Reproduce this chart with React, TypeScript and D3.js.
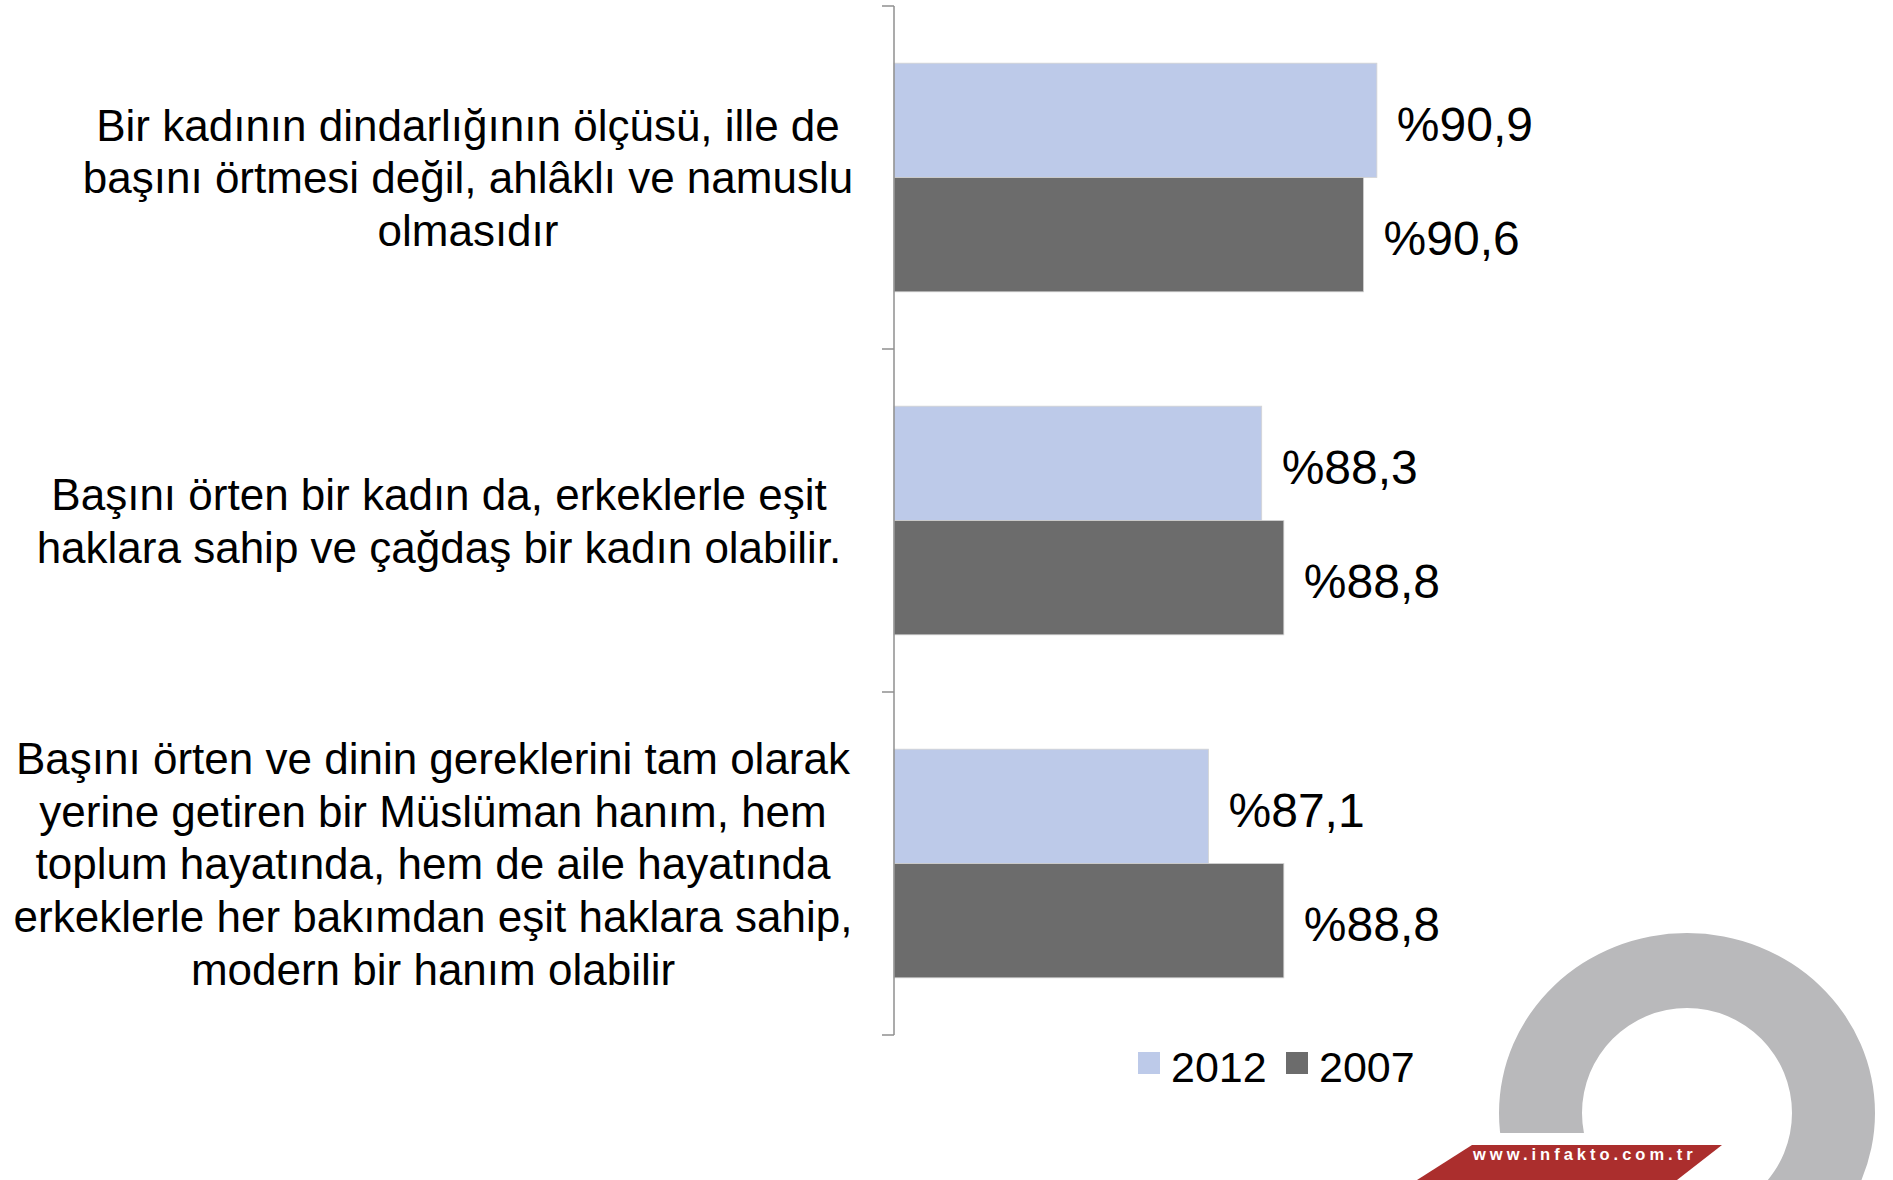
import * as d3 from 'd3';
import { useEffect, useRef } from 'react';

// category labels, already wrapped as in the original slide
const categories = [
  ['Bir kadının dindarlığının ölçüsü, ille de', 'başını örtmesi değil, ahlâklı ve namuslu', 'olmasıdır'],
  ['Başını örten bir kadın da, erkeklerle eşit', 'haklara sahip ve çağdaş bir kadın olabilir.'],
  [
    'Başını örten ve dinin gereklerini tam olarak',
    'yerine getiren bir Müslüman hanım, hem',
    'toplum hayatında, hem de aile hayatında',
    'erkeklerle her bakımdan eşit haklara sahip,',
    'modern bir hanım olabilir',
  ],
];
const series = ['2012', '2007'];
const values2012 = [90.9, 88.3, 87.1];
const values2007 = [90.6, 88.8, 88.8];
const colors = ['#BDCAE9', '#6C6C6C'];

const W = 1893;
const H = 1180;
const FONT = '"Liberation Sans", Arial, sans-serif';

export default function App() {
  const svgRef = useRef<SVGSVGElement | null>(null);

  useEffect(() => {
    const svg = d3.select(svgRef.current).attr('width', W).attr('height', H);
    svg.selectAll('*').remove();

    const x = d3.scaleLinear().domain([80, 100]).range([894, 1780]);
    const y = d3.scaleBand<number>().domain(d3.range(categories.length)).range([6, 1035]);
    const ySub = d3.scaleBand<string>().domain(series).range([0, y.bandwidth()]).paddingOuter(0.5);

    // label centres per category (Excel wraps each label box differently)
    const labelCenter = [468, 439, 433];
    const lineH = 52.8;

    const rows = series.map((s, i) => ({
      key: s,
      color: colors[i],
      values: i === 0 ? values2012 : values2007,
    }));

    // bars
    const g = svg.append('g');
    rows.forEach((r) => {
      g.selectAll(null)
        .data(r.values)
        .enter()
        .append('rect')
        .attr('x', x(80))
        .attr('y', (_, i) => (y(i) ?? 0) + (ySub(r.key) ?? 0))
        .attr('width', (d) => x(d) - x(80))
        .attr('height', ySub.bandwidth())
        .attr('fill', r.color)
        .attr('stroke', '#d4d4d4')
        .attr('stroke-width', 0.8);

      g.selectAll(null)
        .data(r.values)
        .enter()
        .append('text')
        .attr('x', (d) => x(d) + 20)
        .attr('y', (_, i) => (y(i) ?? 0) + (ySub(r.key) ?? 0) + ySub.bandwidth() / 2)
        .attr('dy', '0.43em')
        .attr('font-family', FONT)
        .attr('font-size', 48)
        .attr('fill', '#000')
        .text((d) => '%' + d.toFixed(1).replace('.', ','));
    });

    // category axis
    const axis = svg.append('g').attr('stroke', '#8f8f8f').attr('stroke-width', 1.5);
    axis.append('line').attr('x1', x(80)).attr('x2', x(80)).attr('y1', 6).attr('y2', 1035);
    const bounds = [...y.domain().map((i) => y(i) ?? 0), 1035];
    axis
      .selectAll(null)
      .data(bounds)
      .enter()
      .append('line')
      .attr('x1', x(80) - 12)
      .attr('x2', x(80))
      .attr('y1', (d) => d)
      .attr('y2', (d) => d);

    // category labels
    categories.forEach((lines, i) => {
      const cy = (y(i) ?? 0) + y.bandwidth() / 2;
      const t = svg
        .append('text')
        .attr('font-family', FONT)
        .attr('font-size', 44)
        .attr('fill', '#000')
        .attr('text-anchor', 'middle');
      lines.forEach((line, j) => {
        t.append('tspan')
          .attr('x', labelCenter[i])
          .attr('y', cy + (j - (lines.length - 1) / 2) * lineH)
          .attr('dy', '0.36em')
          .text(line);
      });
    });

    // logo: grey ring with red banner
    const logo = svg.append('g');
    const cx = 1687;
    const cyL = 1113;
    logo
      .append('path')
      .attr(
        'd',
        `M${cx - 188},${cyL} a188,180 0 1,0 376,0 a188,180 0 1,0 -376,0 Z ` +
          `M${cx - 105},${cyL} a105,105 0 1,1 210,0 a105,105 0 1,1 -210,0 Z`
      )
      .attr('fill', '#B9B9BB')
      .attr('fill-rule', 'evenodd');
    logo.append('rect').attr('x', 1480).attr('y', 1133).attr('width', 230).attr('height', 47).attr('fill', '#fff');
    logo
      .append('polygon')
      .attr('points', '1472,1145 1722,1145 1677,1180 1417,1180')
      .attr('fill', '#AB2E2D');
    logo
      .append('text')
      .attr('x', 1473)
      .attr('y', 1160)
      .attr('font-family', FONT)
      .attr('font-weight', 'bold')
      .attr('font-size', 16.5)
      .attr('letter-spacing', 4)
      .attr('fill', '#fff')
      .text('www.infakto.com.tr');

    // legend
    const legend = svg.append('g');
    const legendX = [1138, 1286];
    series.forEach((s, i) => {
      legend.append('rect').attr('x', legendX[i]).attr('y', 1052).attr('width', 22).attr('height', 22).attr('fill', colors[i]);
      legend
        .append('text')
        .attr('x', legendX[i] + 33)
        .attr('y', 1082)
        .attr('font-family', FONT)
        .attr('font-size', 43)
        .attr('fill', '#000')
        .text(s);
    });
  }, []);

  return <svg ref={svgRef} style={{ position: 'absolute', left: 0, top: 0, background: '#fff' }} />;
}
